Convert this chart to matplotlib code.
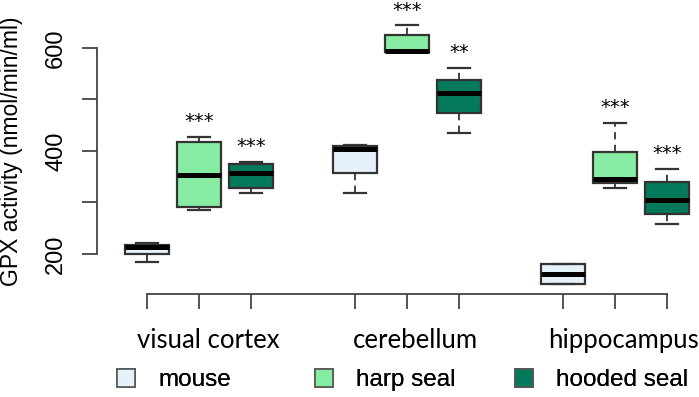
import matplotlib.pyplot as plt
from matplotlib.patches import Patch
import matplotlib.transforms as mtransforms

# brain regions on the x axis and the three species in each region
regions = ['visual cortex', 'cerebellum', 'hippocampus']
species = ['mouse', 'harp seal', 'hooded seal']
colors = ['#e6f2fb', '#86eca2', '#04795b']

# box statistics per species, one tuple per region:
# (lower whisker, q1, median, q3, upper whisker)
mouse = [(184, 200, 214, 218, 221), (319, 358, 404, 410, 412), (142, 142, 161, 181, 181)]
harp_seal = [(285, 291, 353, 418, 428), (592, 592, 594, 626, 644), (328, 337, 346, 399, 454)]
hooded_seal = [(318, 329, 357, 374, 379), (434, 473, 513, 537, 562), (258, 277, 305, 339, 365)]

# significance stars against mouse
harp_stars = ['***', '***', '***']
hooded_stars = ['***', '**', '***']

data = [mouse, harp_seal, hooded_seal]
stars = [None, harp_stars, hooded_stars]

fig = plt.figure(figsize=(6.99, 3.97), dpi=100)
ax = fig.add_axes([97 / 699, 103 / 397, 601 / 699, 294 / 397])

edge = '#333333'
for s, rows in enumerate(data):
    stats = []
    pos = []
    for g, (lo, q1, med, q3, hi) in enumerate(rows):
        stats.append(dict(whislo=lo, q1=q1, med=med, q3=q3, whishi=hi, fliers=[]))
        pos.append(1 + 4 * g + s)
    ax.bxp(stats, positions=pos, widths=0.86, capwidths=0.42, patch_artist=True,
           showfliers=False,
           boxprops=dict(facecolor=colors[s], edgecolor=edge, linewidth=1.6),
           medianprops=dict(color='black', linewidth=3.6, solid_capstyle='butt'),
           whiskerprops=dict(color=edge, linewidth=1.3, linestyle=(0, (4, 3))),
           capprops=dict(color=edge, linewidth=1.6))
    if stars[s] is not None:
        for p, st, row in zip(pos, stars[s], rows):
            ax.annotate(st, (p, row[4]), xytext=(0, 7), textcoords='offset points',
                        ha='center', va='baseline', fontsize=14,
                        family='DejaVu Sans', annotation_clip=False)

ax.set_xlim(0.0385, 11.596)
ax.set_ylim(122.3, 693.2)

for side in ['top', 'right']:
    ax.spines[side].set_visible(False)
ax.spines['left'].set_bounds(200, 600)
ax.spines['bottom'].set_bounds(1, 11)
for side in ['left', 'bottom']:
    ax.spines[side].set_color('#444444')
    ax.spines[side].set_linewidth(1.3)

ax.set_xticks([1, 2, 3, 5, 6, 7, 9, 10, 11])
ax.set_xticklabels([])
ax.set_yticks([200, 300, 400, 500, 600])
ax.set_yticklabels(['200', '', '400', '', '600'], rotation=90, va='center',
                   fontsize=17, family='Liberation Sans')
ax.tick_params(length=11, width=1.3, color='#444444', direction='out')
ax.tick_params(axis='y', pad=10.5)

# y axis label
fig.text(12 / 699, 0.62, 'GPX activity (nmol/min/ml)', rotation=90, ha='center',
         va='center', fontsize=16.5, family='Liberation Sans')

# region names under each group
trans = mtransforms.blended_transform_factory(ax.transData, fig.transFigure)
for g, name in enumerate(regions):
    ax.text(2 + 4 * g + 0.17, 49 / 397, name, transform=trans, ha='center',
            va='baseline', fontsize=18.5, family='Lato', clip_on=False)

# legend: three equally spaced entries, as in the original
legend_x = [117 / 699, 315 / 699, 515 / 699]
for c, name, lx in zip(colors, species, legend_x):
    leg = fig.legend([Patch(facecolor=c, edgecolor='#555555', linewidth=1.2)], [name],
                     loc='center left', bbox_to_anchor=(lx, 0.043), frameon=False,
                     prop=dict(family='Liberation Sans', size=17.5),
                     handlelength=0.76, handleheight=0.76, handletextpad=0.93,
                     borderpad=0, borderaxespad=0)
    fig.add_artist(leg)

fig.savefig('out.png', dpi=100)
